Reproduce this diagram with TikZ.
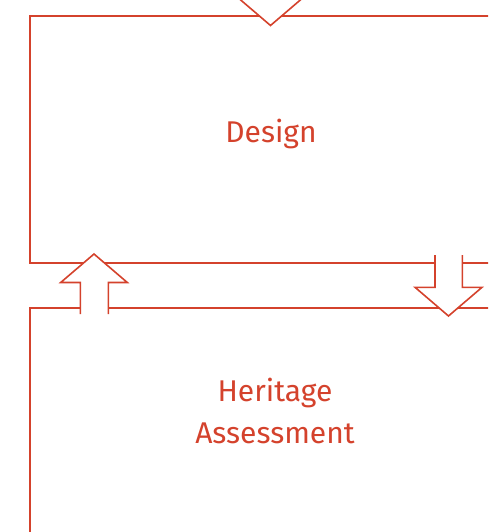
\documentclass[tikz,border=0pt]{standalone}
\usepackage{fontspec}
\setmainfont{Fira Sans}
\definecolor{brick}{RGB}{212,66,44}
\begin{document}
\begin{tikzpicture}[x=1pt,y=-1pt,
  boxline/.style={draw=brick,line width=1.6pt},
  blockarrow/.style={draw=brick,line width=1.6pt,line join=miter},
  lbl/.style={text=brick,font=\fontsize{30}{41.3}\selectfont,inner sep=0pt,align=center}]
\useasboundingbox (0,0) rectangle (488,532);
\clip (0,0) rectangle (488,532);
% boxes
\coordinate (dTR) at (495,16);
\coordinate (dTL) at (30,16);
\coordinate (dBL) at (30,263);
\coordinate (dBR) at (495,263);
\draw[boxline] (dTR) -- (dTL) -- (dBL) -- (dBR);
\coordinate (hTR) at (495,308);
\coordinate (hTL) at (30,308);
\coordinate (hBL) at (30,540);
\draw[boxline] (hTR) -- (hTL) -- (hBL);
% top arrow (down, only head visible)
\fill[white] (256.5,-40) -- (256.5,-3) -- (237.2,-3) -- (270.5,25.5) -- (303.8,-3) -- (284.5,-3) -- (284.5,-40) -- cycle;
\draw[blockarrow] (256.5,-40) -- (256.5,-3) -- (237.2,-3) -- (270.5,25.5) -- (303.8,-3) -- (284.5,-3) -- (284.5,-40);
% left up arrow
\fill[white] (80.3,314) -- (80.3,282.5) -- (60.7,282.5) -- (94,254) -- (127.3,282.5) -- (108.3,282.5) -- (108.3,314) -- cycle;
\draw[blockarrow] (80.3,314) -- (80.3,282.5) -- (60.7,282.5) -- (94,254) -- (127.3,282.5) -- (108.3,282.5) -- (108.3,314);
% right down arrow
\fill[white] (435,255) -- (435,287.3) -- (415,287.3) -- (448.5,316) -- (482,287.3) -- (462.3,287.3) -- (462.3,255) -- cycle;
\draw[blockarrow] (435,255) -- (435,287.3) -- (415,287.3) -- (448.5,316) -- (482,287.3) -- (462.3,287.3) -- (462.3,255);
% labels
\node[lbl,anchor=base] (design) at (271,142.3) {Design};
\node[lbl,anchor=base] (heritage) at (275,443) {Heritage\\Assessment};
\end{tikzpicture}
\end{document}
